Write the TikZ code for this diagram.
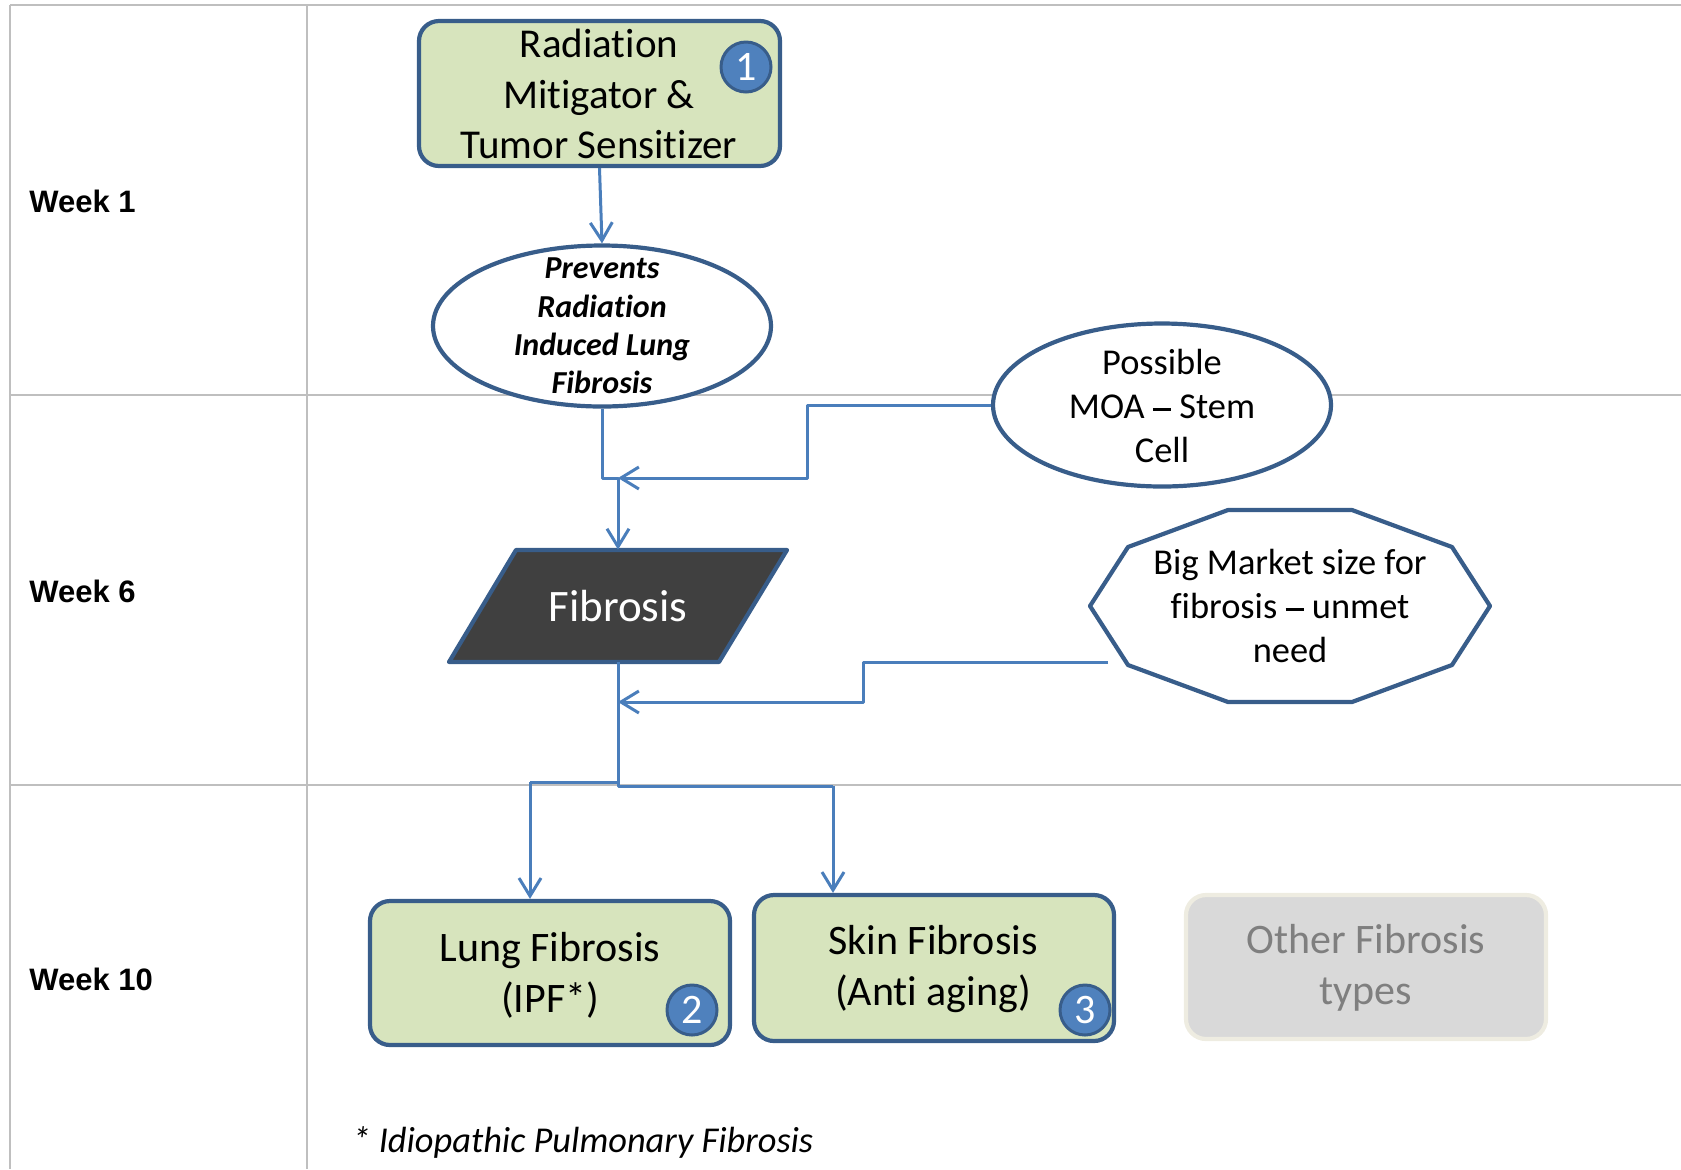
\documentclass[tikz,border=0pt]{standalone}
\usepackage{fontspec}
\setmainfont{Carlito}[Ligatures={TeX,NoCommon}]
\newfontfamily\weekfont{Liberation Sans}
\usetikzlibrary{arrows.meta,shapes.geometric,calc}

% a wide dash, as wide as a Calibri en dash
\newcommand{\widedash}{\rule[0.22em]{0.5em}{0.065em}}

\definecolor{outline}{HTML}{385D8A}
\definecolor{connblue}{HTML}{4A7EBB}
\definecolor{greenfill}{HTML}{D7E4BD}
\definecolor{badgeblue}{HTML}{4F81BD}
\definecolor{darkfill}{HTML}{404040}
\definecolor{gridgray}{HTML}{BFBFBF}
\definecolor{otherfill}{HTML}{D9D9D9}
\definecolor{otherline}{HTML}{EEECE1}
\definecolor{othertext}{HTML}{7F7F7F}

\begin{document}
\begin{tikzpicture}[x=0.5pt,y=-0.5pt,
  gridline/.style={draw=gridgray,line width=1.2pt},
  weeklabel/.style={anchor=west,inner sep=0pt,font=\weekfont\bfseries\fontsize{15.5}{18}\selectfont},
  greenbox/.style={draw=outline,fill=greenfill,line width=2.1pt,rounded corners=10pt,
    minimum width=180pt,minimum height=72.5pt,inner sep=0pt},
  otherbox/.style={draw=otherline,fill=otherfill,line width=2.1pt,rounded corners=10pt,
    minimum width=180pt,minimum height=72pt,inner sep=0pt},
  oval/.style={draw=outline,fill=white,line width=2.1pt,ellipse,inner sep=0pt,
    minimum width=169pt,minimum height=81pt},
  bigtext/.style={align=center,inner sep=0pt,font=\fontsize{20.5}{25.3}\selectfont},
  midtext/.style={align=center,inner sep=0pt,font=\fontsize{18.2}{22.2}\selectfont},
  badge/.style={circle,draw=outline,fill=badgeblue,line width=1.5pt,minimum size=25pt,
    inner sep=0pt,text=white,font=\fontsize{21}{21}\selectfont},
  conn/.style={draw=connblue,line width=1.5pt,line join=round},
  arr/.style={conn,-{Straight Barb[length=9pt,width=11pt,line width=1.5pt]}}
]
\useasboundingbox (0,0) rectangle (1681,1169);

% table grid
\draw[gridline] (10,5) -- (1681,5);
\draw[gridline] (10,395) -- (1681,395);
\draw[gridline] (10,785) -- (1681,785);
\draw[gridline] (10,5) -- (10,1169);
\draw[gridline] (307,5) -- (307,1169);

% row labels
\node[weeklabel] (w1) at (29,201) {Week 1};
\node[weeklabel] (w6) at (29,591) {Week 6};
\node[weeklabel] (w10) at (29,979) {Week 10};

% week 1
\node[greenbox,minimum width=180.5pt] (rad) at (599.5,93.5) {};
\node[bigtext] (radtext) at (599,94) {Radiation\\Mitigator \&\\Tumor Sensitizer};
\node[badge] (b1) at (746,67) {1};

\node[oval,minimum height=80.5pt] (prev) at (602,326) {};
\node[align=center,inner sep=0pt,font=\bfseries\itshape\fontsize{16}{19.15}\selectfont]
  (prevtext) at (602,326) {Prevents\\Radiation\\Induced Lung\\Fibrosis};

\node[oval,minimum height=81.5pt] (moa) at (1162,405) {};
\node[midtext] (moatext) at (1162,406) {Possible\\MOA \widedash{} Stem\\Cell};

% week 6
\coordinate (fibc) at (618,606);
\filldraw[fill=darkfill,draw=outline,line width=2.1pt,line join=round]
  ($(fibc)+(-102,-56)$) -- ($(fibc)+(169,-56)$) -- ($(fibc)+(101,56)$)
  -- ($(fibc)+(-169,56)$) -- cycle;
\node[minimum height=56pt,inner sep=0pt,text=white,font=\fontsize{22.5}{26}\selectfont]
  (fib) at (fibc) {Fibrosis};

\coordinate (mktc) at (1290,606);
\filldraw[fill=white,draw=outline,line width=2.1pt,line join=round]
  ($(mktc)+(-62,-96)$) -- ($(mktc)+(62,-96)$) -- ($(mktc)+(162,-59)$)
  -- ($(mktc)+(200,0)$) -- ($(mktc)+(162,59)$) -- ($(mktc)+(62,96)$)
  -- ($(mktc)+(-62,96)$) -- ($(mktc)+(-162,59)$) -- ($(mktc)+(-200,0)$)
  -- ($(mktc)+(-162,-59)$) -- cycle;
\node[midtext] (market) at (mktc) {Big Market size for\\fibrosis \widedash{} unmet\\need};

% week 10
\node[greenbox,minimum height=72pt] (lung) at (550,973) {};
\node[bigtext,font=\fontsize{21}{25.5}\selectfont] (lungtext) at (550,975) {Lung Fibrosis\\(IPF*)};
\node[badge] (b2) at (692,1010) {2};

\node[greenbox,minimum height=73pt] (skin) at (934,968) {};
\node[bigtext,font=\fontsize{21}{25.5}\selectfont] (skintext) at (933,969) {Skin Fibrosis\\(Anti aging)};
\node[badge] (b3) at (1085,1010) {3};

\node[otherbox] (other) at (1366,967) {};
\node[bigtext,text=othertext,font=\fontsize{21}{25.5}\selectfont] (othertxt) at (1366,968) {Other Fibrosis\\types};

\node[anchor=west,inner sep=0pt,font=\itshape\fontsize{18.2}{22}\selectfont] (foot) at (352,1142)
  {* Idiopathic Pulmonary Fibrosis};

% connectors
\coordinate (j1) at (618,478);
\coordinate (moabend) at (807,478);
\coordinate (mktout) at (1108,662);
\coordinate (mktbend) at (863,702);
\coordinate (j4) at (618,702);
\coordinate (j2) at (618,782);
\coordinate (lungin) at (530,782);
\coordinate (j3) at (618,786);
\coordinate (skinin) at (833,786);

\draw[arr] (rad.south) -- (prev.north);
\draw[arr] (prev.south) |- (j1) -- (fib.north);
\draw[arr] (moa.west) -| (moabend) -- (j1);
\draw[arr] (mktout) -| (mktbend) -- (j4);
\draw[conn] (fib.south) -- (j3) -- (skinin);
\draw[arr] (skinin) -- (skinin |- skin.north);
\draw[conn] (j2) -- (lungin);
\draw[arr] (lungin) -- (lungin |- lung.north);
\end{tikzpicture}
\end{document}
